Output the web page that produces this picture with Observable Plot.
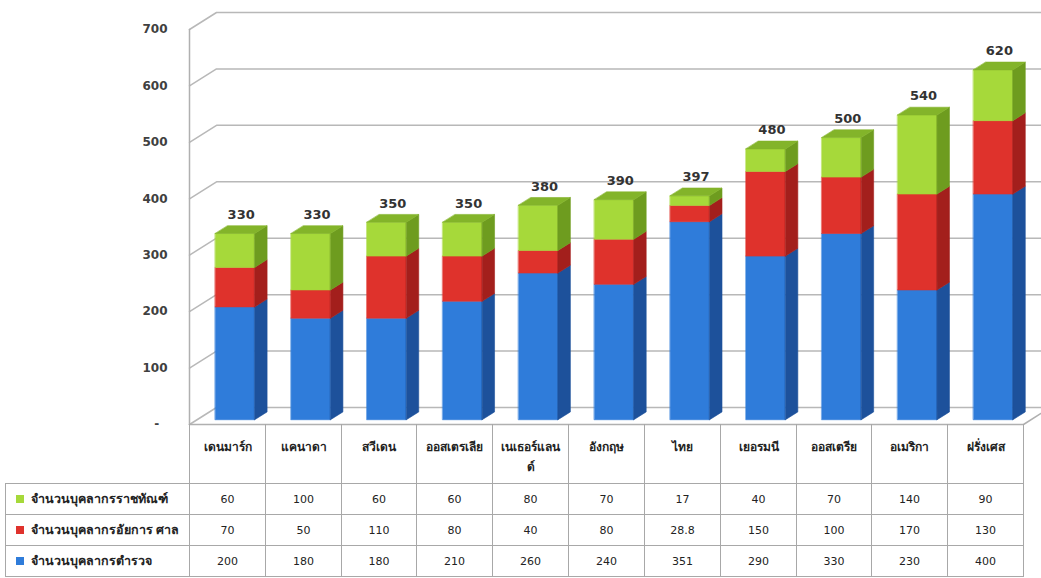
<!DOCTYPE html>
<html>
<head>
<meta charset="utf-8">
<script src="https://cdn.jsdelivr.net/npm/d3@7"></script>
<script src="https://cdn.jsdelivr.net/npm/@observablehq/plot@0.6"></script>
<style>
html,body{margin:0;padding:0;background:#fff;overflow:hidden;}
#wrap{position:relative;width:1041px;height:578px;overflow:hidden;font-family:"Noto Sans","DejaVu Sans",sans-serif;}
#chart{position:absolute;left:0;top:0;}
.cell{position:absolute;box-sizing:border-box;border:1px solid #a8a8a8;color:#222;}
.hdr{border-top:none;font-size:12px;font-weight:bold;text-align:center;padding:13px 7px 0 7px;line-height:20px;overflow-wrap:anywhere;word-break:break-all;}
.val{font-family:"DejaVu Sans",sans-serif;font-size:11px;text-align:center;display:flex;align-items:center;justify-content:center;}
.leg{font-size:12.5px;font-weight:bold;display:flex;align-items:center;padding-left:10px;}
.sw{display:inline-block;width:8px;height:8px;margin-right:7px;}
</style>
</head>
<body>
<div id="wrap"><div id="chart"></div></div>
<script>
// ---- data ----
const categories = ["เดนมาร์ก","แคนาดา","สวีเดน","ออสเตรเลีย","เนเธอร์แลนด์","อังกฤษ","ไทย","เยอรมนี","ออสเตรีย","อเมริกา","ฝรั่งเศส"];
const seriesNames = ["จำนวนบุคลากรตำรวจ","จำนวนบุคลากรอัยการ ศาล","จำนวนบุคลากรราชทัณฑ์"]; // bottom -> top
const police          = [200,180,180,210,260,240,351,290,330,230,400];
const prosecutorCourt = [70,50,110,80,40,80,28.8,150,100,170,130];
const corrections     = [60,100,60,60,80,70,17,40,70,140,90];
const yTicks = [0,100,200,300,400,500,600,700];

const seriesValues = [police, prosecutorCourt, corrections];
const frontColors = ["#2F7CDA","#DF322C","#A6D93A"];
const sideColors  = ["#1D519B","#A31F1C","#6E9C1F"];
const topColor = "#83B42A";

// ---- geometry (pixels -> data units) ----
const W = 1041, X0 = 189, X1 = 1023, Y0 = 424, Y700 = 29;
const colW = (X1 - X0) / categories.length;
const DXU = 27 / colW;              // depth in column units
const DYV = 17 / ((Y0 - Y700) / 700); // depth in value units
const DF = 0.28, DB = 0.74, BW = 0.52;
const P = (u, v, d, id, color) => ({x: u + d * DXU, y: v + d * DYV, id, color});

// bars as polygons
const polys = [];
const totals = [];
categories.forEach((c, i) => {
  const uL = i + 0.5 - BW / 2, uR = i + 0.5 + BW / 2;
  let lo = 0;
  seriesValues.forEach((vals, s) => {
    const hi = lo + vals[i];
    const f = `f${i}_${s}`, sd = `s${i}_${s}`;
    polys.push(P(uL, lo, DF, f, frontColors[s]), P(uR, lo, DF, f, frontColors[s]), P(uR, hi, DF, f, frontColors[s]), P(uL, hi, DF, f, frontColors[s]));
    polys.push(P(uR, lo, DF, sd, sideColors[s]), P(uR, lo, DB, sd, sideColors[s]), P(uR, hi, DB, sd, sideColors[s]), P(uR, hi, DF, sd, sideColors[s]));
    lo = hi;
  });
  const t = `t${i}`;
  polys.push(P(uL, lo, DF, t, topColor), P(uR, lo, DF, t, topColor), P(uR, lo, DB, t, topColor), P(uL, lo, DB, t, topColor));
  totals.push({x: i + 0.5 + ((DF + DB) / 2) * DXU, y: lo + ((DF + DB) / 2) * DYV, label: String(Math.round(lo))});
});

// gridlines (left wall diagonal + back wall)
const n = categories.length;
const grid = [];
yTicks.forEach(v => {
  grid.push(P(0, v, 0, "g" + v), P(0, v, 1, "g" + v), P(n + 0.5, v, 1, "g" + v));
});
const frame = [
  P(0, 0, 0, "wall"), P(0, 700, 0, "wall"),
  P(0, 0, 0, "floor"), P(n, 0, 0, "floor"), P(n, 0, 1, "floor")
];

const chart = Plot.plot({
  width: W, height: 440,
  marginLeft: X0, marginRight: W - X1, marginTop: 10, marginBottom: 16,
  x: {domain: [0, n], range: [X0, X1], axis: null},
  y: {domain: [0, 700], range: [Y0, Y700], ticks: yTicks,
      tickFormat: d => d === 0 ? "-\u00a0\u00a0" : String(d),
      tickSize: 0, tickPadding: 22, label: null},
  color: {type: "identity"},
  style: {fontFamily: "DejaVu Sans", fontSize: "12px", fontWeight: "bold", color: "#404040", background: "transparent"},
  marks: [
    Plot.line(grid, {x: "x", y: "y", z: "id", stroke: "#b8b8b8", strokeWidth: 1.5}),
    Plot.line(frame, {x: "x", y: "y", z: "id", stroke: "#b0b0b0", strokeWidth: 1.5}),
    Plot.line(polys, {x: "x", y: "y", z: "id", fill: "color", stroke: "color", strokeWidth: 0.6, curve: "linear-closed"}),
    Plot.text(totals, {x: "x", y: "y", text: "label", dy: -15, fontSize: 13, fontWeight: "bold", fill: "#333"})
  ]
});
document.getElementById("chart").appendChild(chart);

// ---- data table below, columns aligned with the x scale ----
const xs = chart.scale("x");
const wrap = document.getElementById("wrap");
function cell(cls, left, top, width, height, html) {
  const d = document.createElement("div");
  d.className = "cell " + cls;
  d.style.left = left + "px"; d.style.top = top + "px";
  d.style.width = width + "px"; d.style.height = height + "px";
  d.innerHTML = html;
  wrap.appendChild(d);
  return d;
}
const colEdges = d3.range(n + 1).map(i => Math.round(xs.apply(i)));
// header row
categories.forEach((c, i) => {
  cell("hdr", colEdges[i], Y0, colEdges[i + 1] - colEdges[i] + 1, 60, c);
});
// series rows (top row = top of stack)
const rowTops = [483, 514, 545];
const rowH = 31;
[2, 1, 0].forEach((s, r) => {
  const top = rowTops[r];
  cell("leg", 5, top, colEdges[0] - 5 + 1, rowH + 1,
       `<span class="sw" style="background:${frontColors[s]}"></span>${seriesNames[s]}`);
  seriesValues[s].forEach((v, i) => {
    cell("val", colEdges[i], top, colEdges[i + 1] - colEdges[i] + 1, rowH + 1, String(v));
  });
});
</script>
</body>
</html>
